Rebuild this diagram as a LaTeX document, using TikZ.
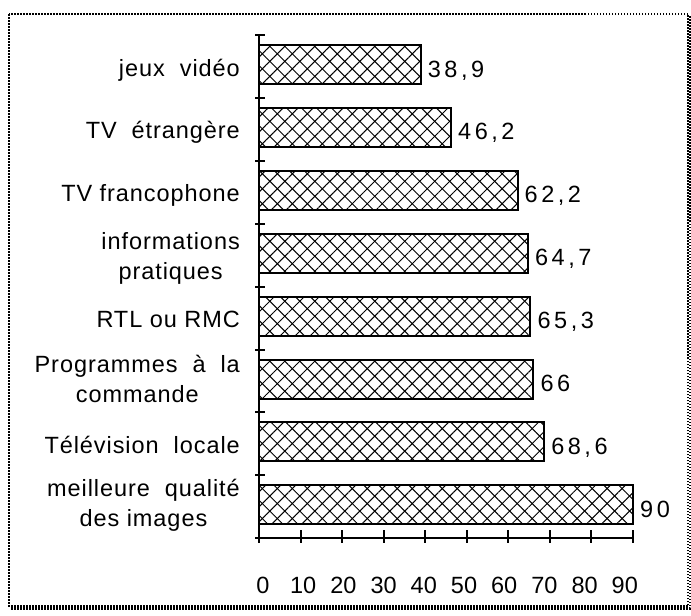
\documentclass[tikz,border=0pt]{standalone}
\usepackage{fontspec}
\setmainfont{Liberation Sans}
\newfontfamily\catfont[LetterSpace=4]{Liberation Sans}
\newfontfamily\valfont[LetterSpace=15]{Liberation Sans}
\newfontfamily\tickfont{Liberation Sans}
\usetikzlibrary{positioning,patterns.meta}

\tikzset{
  bar/.style={draw, line width=2pt, anchor=west, inner sep=0pt, outer sep=0pt,
    minimum height=39pt, minimum width=#1*4.156pt,
    preaction={pattern={Lines[angle=45,distance=10.6pt,line width=1pt]}},
    pattern={Lines[angle=-45,distance=10.6pt,line width=1pt]}},
  cat/.style={font=\catfont\fontsize{23.5}{30}\selectfont, inner sep=0pt},
  one/.style={cat, text height=17pt, text depth=5pt, yshift=-5.5pt},
  two/.style={cat, align=center},
  val/.style={font=\valfont\fontsize{23.5}{30}\selectfont, inner sep=0pt,
    text height=17pt, text depth=4pt, yshift=-6pt},
  ticklab/.style={font=\tickfont\fontsize{23.5}{30}\selectfont, inner sep=0pt, anchor=base},
  axis/.style={line width=2pt},
}

\begin{document}
\begin{tikzpicture}[x=1pt, y=-1pt]
    \useasboundingbox (0,0) rectangle (691,616);
    % Frame round the chart
    \draw[line width=1.2pt, dash pattern=on 1.5pt off 1.5pt] (9,14) rectangle (688,606);
    \draw[line width=3pt, dash pattern=on 1.5pt off 1.5pt] (11,608) -- (690,608) -- (690,16);

    % Axes
    \coordinate (o) at (259,538);
    \coordinate (ytop) at (259,35);
    \coordinate (xend) at (633,538);
    \draw[axis] (ytop) -- (o) -- (xend);
    \foreach \k in {0,...,8}
        \draw[axis] (255,{35+62.9*\k}) -- (265,{35+62.9*\k});
    \foreach \lab [count=\k from 0] in {0,10,...,90} {
        \draw[axis] ({259+41.56*\k},530) -- ({259+41.56*\k},543);
        \node[ticklab] (t\k) at ({263+40.2*\k},593) {\lab};
    }

    % Bars
    \node[bar=38.9] (b1) at (259,64.5) {};
    \node[bar=46.2] (b2) at (259,127.4) {};
    \node[bar=62.2] (b3) at (259,190.3) {};
    \node[bar=64.7] (b4) at (259,253.2) {};
    \node[bar=65.3] (b5) at (259,316.1) {};
    \node[bar=66] (b6) at (259,379) {};
    \node[bar=68.6] (b7) at (259,441.9) {};
    \node[bar=90] (b8) at (259,504.8) {};

    % Values at the end of the bars
    \node[val, right=7pt of b1] (v1) {38,9};
    \node[val, right=7pt of b2] (v2) {46,2};
    \node[val, right=7pt of b3] (v3) {62,2};
    \node[val, right=7pt of b4] (v4) {64,7};
    \node[val, right=7pt of b5] (v5) {65,3};
    \node[val, right=7pt of b6] (v6) {66};
    \node[val, right=7pt of b7] (v7) {68,6};
    \node[val, right=7pt of b8] (v8) {90};

    % Category names
    \node[one, left=19pt of b1] (l1) {jeux\ \ vidéo};
    \node[one, left=19pt of b2] (l2) {TV\ \ étrangère};
    \node[one, left=19pt of b3] (l3) {TV francophone};
    \node[two, left=19pt of b4, yshift=-5pt] (l4) {informations\\pratiques};
    \node[one, left=19pt of b5] (l5) {RTL ou RMC};
    \node[two, left=19pt of b6] (l6) {Programmes\ \ à\ \ la\\commande};
    \node[one, left=19pt of b7] (l7) {Télévision\ \ locale};
    \node[two, left=19pt of b8] (l8) {meilleure\ \ qualité\\des images};
\end{tikzpicture}
\end{document}
